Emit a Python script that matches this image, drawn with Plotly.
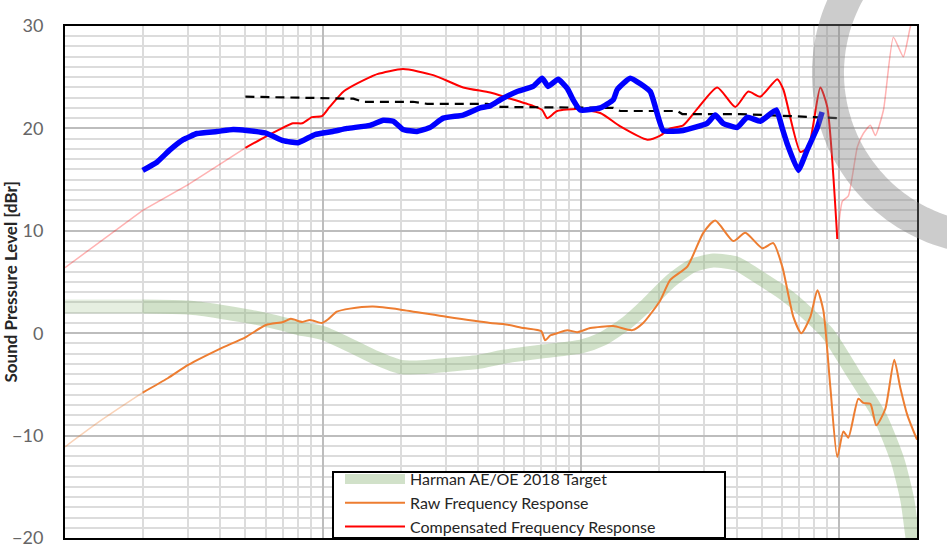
import numpy as np
import plotly.graph_objects as go

# ---------------- data ----------------
# Harman AE/OE 2018 target
target_f_low = [10, 20]
target_db_low = [2.6, 2.6]
target_f = [20, 30, 40, 50, 60, 70, 80, 100, 130, 160, 200, 250, 300, 400, 500, 700,
            1000, 1200, 1500, 1800, 2200, 2700, 3250, 4000, 4400, 5000, 6000, 6600,
            9000, 11300, 14400, 16800, 18350, 19200, 20000]
target_db = [2.6, 2.5, 2.1, 1.7, 1.3, 0.9, 0.5, 0.0, -1.3, -2.4, -3.3, -3.3, -3.1, -2.8,
             -2.3, -1.8, -1.3, -0.6, 1.0, 2.8, 5.0, 6.6, 7.1, 6.8, 6.2, 5.3, 4.0, 3.2,
             0.0, -3.9, -8.2, -12.4, -16.3, -19.9, -23.0]

# Raw frequency response
raw_f_low = [10, 14, 20]
raw_db_low = [-11.1, -8.4, -5.8]
raw_f = [20, 25, 30, 40, 50, 60, 70, 75, 83, 89, 99, 105, 113, 127, 156, 200, 300, 444,
         500, 600, 700, 725, 760, 807, 883, 965, 1084, 1331, 1577, 1738, 2024, 2213,
         2576, 2972, 3306, 3882, 4322, 5032, 5550, 6013, 6637, 7127, 7725, 8224, 8676,
         9233, 9822, 10370, 10840, 11850, 12390, 13190, 13910, 15070, 16330, 17220,
         18350, 20000]
raw_db = [-5.8, -4.4, -3.1, -1.5, -0.4, 0.8, 1.1, 1.4, 1.1, 1.3, 1.0, 1.4, 2.1, 2.4, 2.6,
          2.3, 1.6, 1.0, 0.9, 0.5, 0.2, -0.7, -0.2, 0.0, 0.3, 0.1, 0.5, 0.7, 0.3, 1.0,
          3.2, 5.2, 6.5, 9.8, 11.0, 9.0, 9.8, 8.3, 8.8, 6.5, 1.6, 0.0, 1.6, 4.2, 2.2,
          -5.3, -12.1, -9.6, -10.2, -6.4, -6.8, -6.9, -9.0, -7.4, -2.6, -5.3, -8.0, -10.4]

# Compensated frequency response
comp_f = [50, 60, 76.5, 83, 90.6, 99, 106, 120, 127, 152, 162, 204, 267, 349, 444, 516,
          651, 706, 738, 807, 965, 1185, 1417, 1803, 2024, 2213, 2483, 2816, 3367, 3953,
          4440, 4940, 5750, 6070, 7067, 7590, 8440, 8980, 9822]
comp_db = [18.1, 19.2, 20.5, 20.5, 21.1, 21.2, 22.1, 23.6, 24.0, 25.0, 25.3, 25.8, 25.2,
           24.0, 23.5, 23.0, 22.2, 21.8, 21.0, 21.7, 21.9, 21.5, 20.2, 18.9, 19.3, 20.0,
           20.3, 21.9, 24.0, 22.1, 23.6, 23.1, 24.8, 23.8, 17.7, 18.2, 24.0, 22.1, 9.2]
comp_f_low = [10, 20, 30, 50]
comp_db_low = [6.4, 12.0, 14.5, 18.1]
comp_f_high = [9822, 10280, 10840, 11750, 12390, 13190, 13800, 14830, 16200, 17700,
               18840, 20000]
comp_db_high = [9.2, 12.9, 13.4, 18.2, 19.5, 20.3, 19.3, 21.8, 28.9, 27.0, 29.9, 32.0]

# Black dashed level line
level_f = [50, 79, 131, 143, 223, 253, 432, 486, 1331, 1417, 2355, 2463, 4130, 10000]
level_db = [23.1, 23.0, 22.9, 22.6, 22.6, 22.4, 22.4, 22.1, 22.0, 21.7, 21.7, 21.4,
            21.4, 21.0]

# Blue hand-drawn curve
blue_f = [20, 22.7, 25.5, 28.7, 32.5, 38.8, 44.8, 50.6, 60.7, 70, 80, 93, 109, 124, 152,
          171, 187, 204, 231, 260, 292, 349, 406, 444, 486, 565, 651, 706, 745, 814, 883,
          930, 991, 1185, 1331, 1380, 1549, 1851, 2078, 2484, 3076, 3306, 3548, 4025,
          4400, 4940, 5700, 6013, 6280, 6935, 7510, 8224, 8577]
blue_db = [15.9, 16.7, 17.9, 18.9, 19.5, 19.7, 19.9, 19.8, 19.5, 18.8, 18.6, 19.4, 19.7,
           20.0, 20.3, 20.8, 20.7, 19.9, 19.7, 20.1, 21.0, 21.3, 22.0, 22.2, 22.8, 23.6,
           24.1, 24.9, 24.1, 24.8, 23.9, 22.8, 21.8, 22.0, 22.8, 23.8, 24.9, 23.6, 19.8,
           19.8, 20.5, 21.3, 20.5, 20.1, 21.1, 20.7, 21.8, 20.0, 18.5, 15.9, 17.9, 20.1,
           21.6]

y_ticks = [-20, -10, 0, 10, 20, 30]
x_major = [10, 100, 1000, 10000]
x_minor = [m * d for d in (10, 100, 1000) for m in range(2, 10)] + [20000]

legend_names = ["Harman AE/OE 2018 Target", "Raw Frequency Response",
                "Compensated Frequency Response"]
y_title = "Sound Pressure Level [dBr]"

# ---------------- figure ----------------
W, H = 947, 552
ML, MR, MT, MB = 65, 30, 26, 14
PW, PH = W - ML - MR, H - MT - MB

def px(xp):
    return (xp - ML) / PW

def py(yp):
    return (H - MB - yp) / PH

GREEN = "rgba(140,180,120,0.4)"
GREEN_FADE = "rgba(140,180,120,0.22)"
ORANGE = "#ED7D31"
RED = "#FF0000"

fig = go.Figure()
fig.add_trace(go.Scatter(x=target_f_low, y=target_db_low, mode="lines", showlegend=False,
                         line=dict(color=GREEN_FADE, width=14), hoverinfo="skip"))
fig.add_trace(go.Scatter(x=target_f, y=target_db, mode="lines", name=legend_names[0],
                         line=dict(color=GREEN, width=14, shape="spline", smoothing=0.6)))
fig.add_trace(go.Scatter(x=raw_f_low, y=raw_db_low, mode="lines", showlegend=False,
                         line=dict(color="rgba(237,125,49,0.35)", width=1.5, shape="spline")))
fig.add_trace(go.Scatter(x=raw_f, y=raw_db, mode="lines", name=legend_names[1],
                         line=dict(color=ORANGE, width=2, shape="spline", smoothing=0.6)))
fig.add_trace(go.Scatter(x=comp_f_low, y=comp_db_low, mode="lines", showlegend=False,
                         line=dict(color="rgba(255,0,0,0.3)", width=1.5)))
fig.add_trace(go.Scatter(x=comp_f_high, y=comp_db_high, mode="lines", showlegend=False,
                         line=dict(color="rgba(255,0,0,0.3)", width=1.5, shape="spline",
                                   smoothing=0.5)))
fig.add_trace(go.Scatter(x=comp_f, y=comp_db, mode="lines", name=legend_names[2],
                         line=dict(color=RED, width=2, shape="spline", smoothing=0.6)))
fig.add_trace(go.Scatter(x=level_f, y=level_db, mode="lines", showlegend=False,
                         line=dict(color="black", width=2.2, dash="9px,6px")))
fig.add_trace(go.Scatter(x=blue_f, y=blue_db, mode="lines", showlegend=False,
                         line=dict(color="#0000FF", width=5.5, shape="spline",
                                   smoothing=0.4)))

# decorative watermark arc (pixel geometry converted to paper coordinates)
th = np.radians(np.linspace(218, 95, 60))
cx, cy, r = 994, 73, 166
ax_ = cx + r * np.cos(th)
ay_ = cy + r * np.sin(th)
path = "M " + " L ".join(f"{px(a):.4f},{py(b):.4f}" for a, b in zip(ax_, ay_))

shapes = [
    dict(type="rect", xref="paper", yref="paper", x0=px(333), x1=px(725), y0=0,
         y1=py(472), fillcolor="white", line=dict(color="black", width=2), layer="above"),
    dict(type="path", xref="paper", yref="paper", path=path,
         line=dict(color="rgba(128,128,128,0.4)", width=32), layer="above"),
]

fig.update_layout(
    width=W, height=H,
    margin=dict(l=ML, r=MR, t=MT, b=MB, autoexpand=False),
    paper_bgcolor="white", plot_bgcolor="white",
    font=dict(family="Lato, 'Open Sans', sans-serif", color="#595959"),
    showlegend=True,
    legend=dict(x=px(340), y=py(462), xanchor="left", yanchor="top",
                bgcolor="rgba(0,0,0,0)", borderwidth=0, itemwidth=60,
                font=dict(size=16, color="#262626"), tracegroupgap=0),
    shapes=shapes,
    annotations=[dict(text="<b>" + y_title + "</b>", textangle=-90, showarrow=False,
                      xref="paper", yref="paper", x=px(22), xanchor="right",
                      y=0.5, yanchor="middle",
                      font=dict(size=17, color="#262626"))],
)
fig.update_xaxes(type="log", range=[1, np.log10(20000)], tickvals=x_major,
                 showticklabels=False, ticks="", showgrid=True, gridcolor="#bdbdbd",
                 gridwidth=2, zeroline=False,
                 minor=dict(tickvals=x_minor, showgrid=True, gridcolor="#dcdcdc",
                            gridwidth=2, ticks=""),
                 showline=True, linecolor="black", linewidth=2, mirror=True)
fig.update_yaxes(range=[-20, 30], tickvals=y_ticks, ticks="", showgrid=True,
                 gridcolor="#bdbdbd", gridwidth=2, zeroline=False,
                 minor=dict(dtick=1, showgrid=True, gridcolor="#dcdcdc", gridwidth=2,
                            ticks=""),
                 tickfont=dict(size=18, color="#666666"), ticklabelstandoff=16,
                 showline=True, linecolor="black", linewidth=2, mirror=True)

fig.write_html("out.html", config={"displayModeBar": False},
               post_script="document.body.style.margin='0px';"
                           "document.body.style.overflow='hidden';")
